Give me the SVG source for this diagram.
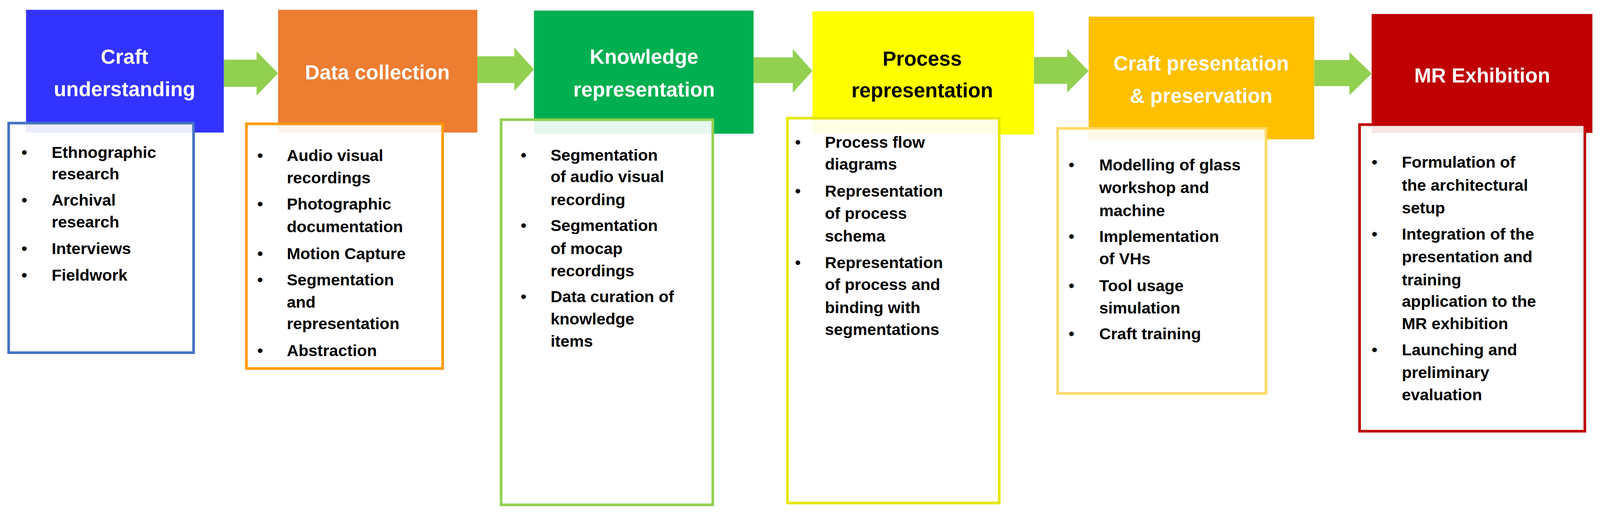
<svg xmlns="http://www.w3.org/2000/svg" width="4233" height="1361" viewBox="0 0 4233 1361">
<style>
.h{font-family:"Liberation Sans",Arial,sans-serif;font-weight:bold;font-size:54px;text-anchor:middle;fill:#fff}
.t{font-family:"Liberation Sans",Arial,sans-serif;font-weight:bold;font-size:43px;fill:#000}
.ob{fill:#fff;fill-opacity:0.9;stroke-width:7}
.ar{fill:#92D050}
</style>
<rect width="4233" height="1361" fill="#fff"/>
<g transform="scale(0.966)">
<g id="connectors">
<polygon class="ar" points="593,158 680,158 680,136 737,194 680,253 680,230 593,230"/>
<polygon class="ar" points="1265,149 1363,149 1363,126 1415,184 1363,241 1363,220 1265,220"/>
<polygon class="ar" points="1997,152 2101,152 2101,130 2153,188 2101,245 2101,220 1997,220"/>
<polygon class="ar" points="2740,151 2828,151 2828,130 2885,188 2828,245 2828,222 2740,222"/>
<polygon class="ar" points="3483,159 3576,159 3576,138 3635,195 3576,252 3576,228 3483,228"/>
</g>
<g id="n1">
<rect x="69" y="26" width="524" height="325" fill="#3333FF"/>
<text class="h" x="330" y="169">Craft</text>
<text class="h" x="330" y="255">understanding</text>
<rect class="ob" x="23" y="326" width="490" height="608" stroke="#4472C4"/>
<g class="t"><text x="57" y="418">•</text><text x="137" y="418">Ethnographic</text><text x="137" y="475">research</text>
<text x="57" y="545">•</text><text x="137" y="545">Archival</text><text x="137" y="603">research</text>
<text x="57" y="673">•</text><text x="137" y="673">Interviews</text>
<text x="57" y="743">•</text><text x="137" y="743">Fieldwork</text></g>
</g>
<g id="n2">
<rect x="737" y="26" width="528" height="325" fill="#ED7D31"/>
<text class="h" x="1000" y="210">Data collection</text>
<rect class="ob" x="653" y="328" width="520" height="648" stroke="#FF9900"/>
<g class="t"><text x="682" y="427">•</text><text x="760" y="427">Audio visual</text><text x="760" y="485">recordings</text>
<text x="682" y="555">•</text><text x="760" y="555">Photographic</text><text x="760" y="615">documentation</text>
<text x="682" y="686">•</text><text x="760" y="686">Motion Capture</text>
<text x="682" y="756">•</text><text x="760" y="756">Segmentation</text><text x="760" y="815">and</text><text x="760" y="872">representation</text>
<text x="682" y="943">•</text><text x="760" y="943">Abstraction</text></g>
</g>
<g id="n3">
<rect x="1415" y="28" width="582" height="326" fill="#00B050"/>
<text class="h" x="1707" y="169">Knowledge</text>
<text class="h" x="1707" y="256">representation</text>
<rect class="ob" x="1328" y="317" width="561" height="1020" stroke="#92D050"/>
<g class="t"><text x="1380" y="425">•</text><text x="1459" y="425">Segmentation</text><text x="1459" y="482">of audio visual</text><text x="1459" y="543">recording</text>
<text x="1380" y="612">•</text><text x="1459" y="612">Segmentation</text><text x="1459" y="673">of mocap</text><text x="1459" y="732">recordings</text>
<text x="1380" y="800">•</text><text x="1459" y="800">Data curation of</text><text x="1459" y="859">knowledge</text><text x="1459" y="918">items</text></g>
</g>
<g id="n4">
<rect x="2153" y="30" width="587" height="326" fill="#FFFF00"/>
<text class="h" x="2444" y="174" style="fill:#000">Process</text>
<text class="h" x="2444" y="258" style="fill:#000">representation</text>
<rect class="ob" x="2087" y="313" width="561" height="1019" stroke="#E6E600"/>
<g class="t"><text x="2107" y="391">•</text><text x="2186" y="391">Process flow</text><text x="2186" y="449">diagrams</text>
<text x="2107" y="521">•</text><text x="2186" y="521">Representation</text><text x="2186" y="580">of process</text><text x="2186" y="640">schema</text>
<text x="2107" y="710">•</text><text x="2186" y="710">Representation</text><text x="2186" y="768">of process and</text><text x="2186" y="829">binding with</text><text x="2186" y="887">segmentations</text></g>
</g>
<g id="n5">
<rect x="2885" y="44" width="598" height="325" fill="#FFC000"/>
<text class="h" x="3183" y="186">Craft presentation</text>
<text class="h" x="3183" y="272">&amp; preservation</text>
<rect class="ob" x="2803" y="340" width="552" height="702" stroke="#FFD966"/>
<g class="t"><text x="2832" y="451">•</text><text x="2913" y="451">Modelling of glass</text><text x="2913" y="511">workshop and</text><text x="2913" y="572">machine</text>
<text x="2832" y="641">•</text><text x="2913" y="641">Implementation</text><text x="2913" y="700">of VHs</text>
<text x="2832" y="771">•</text><text x="2913" y="771">Tool usage</text><text x="2913" y="830">simulation</text>
<text x="2832" y="899">•</text><text x="2913" y="899">Craft training</text></g>
</g>
<g id="n6">
<rect x="3635" y="37" width="585" height="315" fill="#C00000"/>
<text class="h" x="3928" y="218">MR Exhibition</text>
<rect class="ob" x="3603" y="330" width="597" height="812" stroke="#C00000"/>
<g class="t"><text x="3635" y="444">•</text><text x="3715" y="444">Formulation of</text><text x="3715" y="505">the architectural</text><text x="3715" y="565">setup</text>
<text x="3635" y="635">•</text><text x="3715" y="635">Integration of the</text><text x="3715" y="695">presentation and</text><text x="3715" y="756">training</text><text x="3715" y="813">application to the</text><text x="3715" y="872">MR exhibition</text>
<text x="3635" y="941">•</text><text x="3715" y="941">Launching and</text><text x="3715" y="1001">preliminary</text><text x="3715" y="1060">evaluation</text></g>
</g>
</g>
</svg>
